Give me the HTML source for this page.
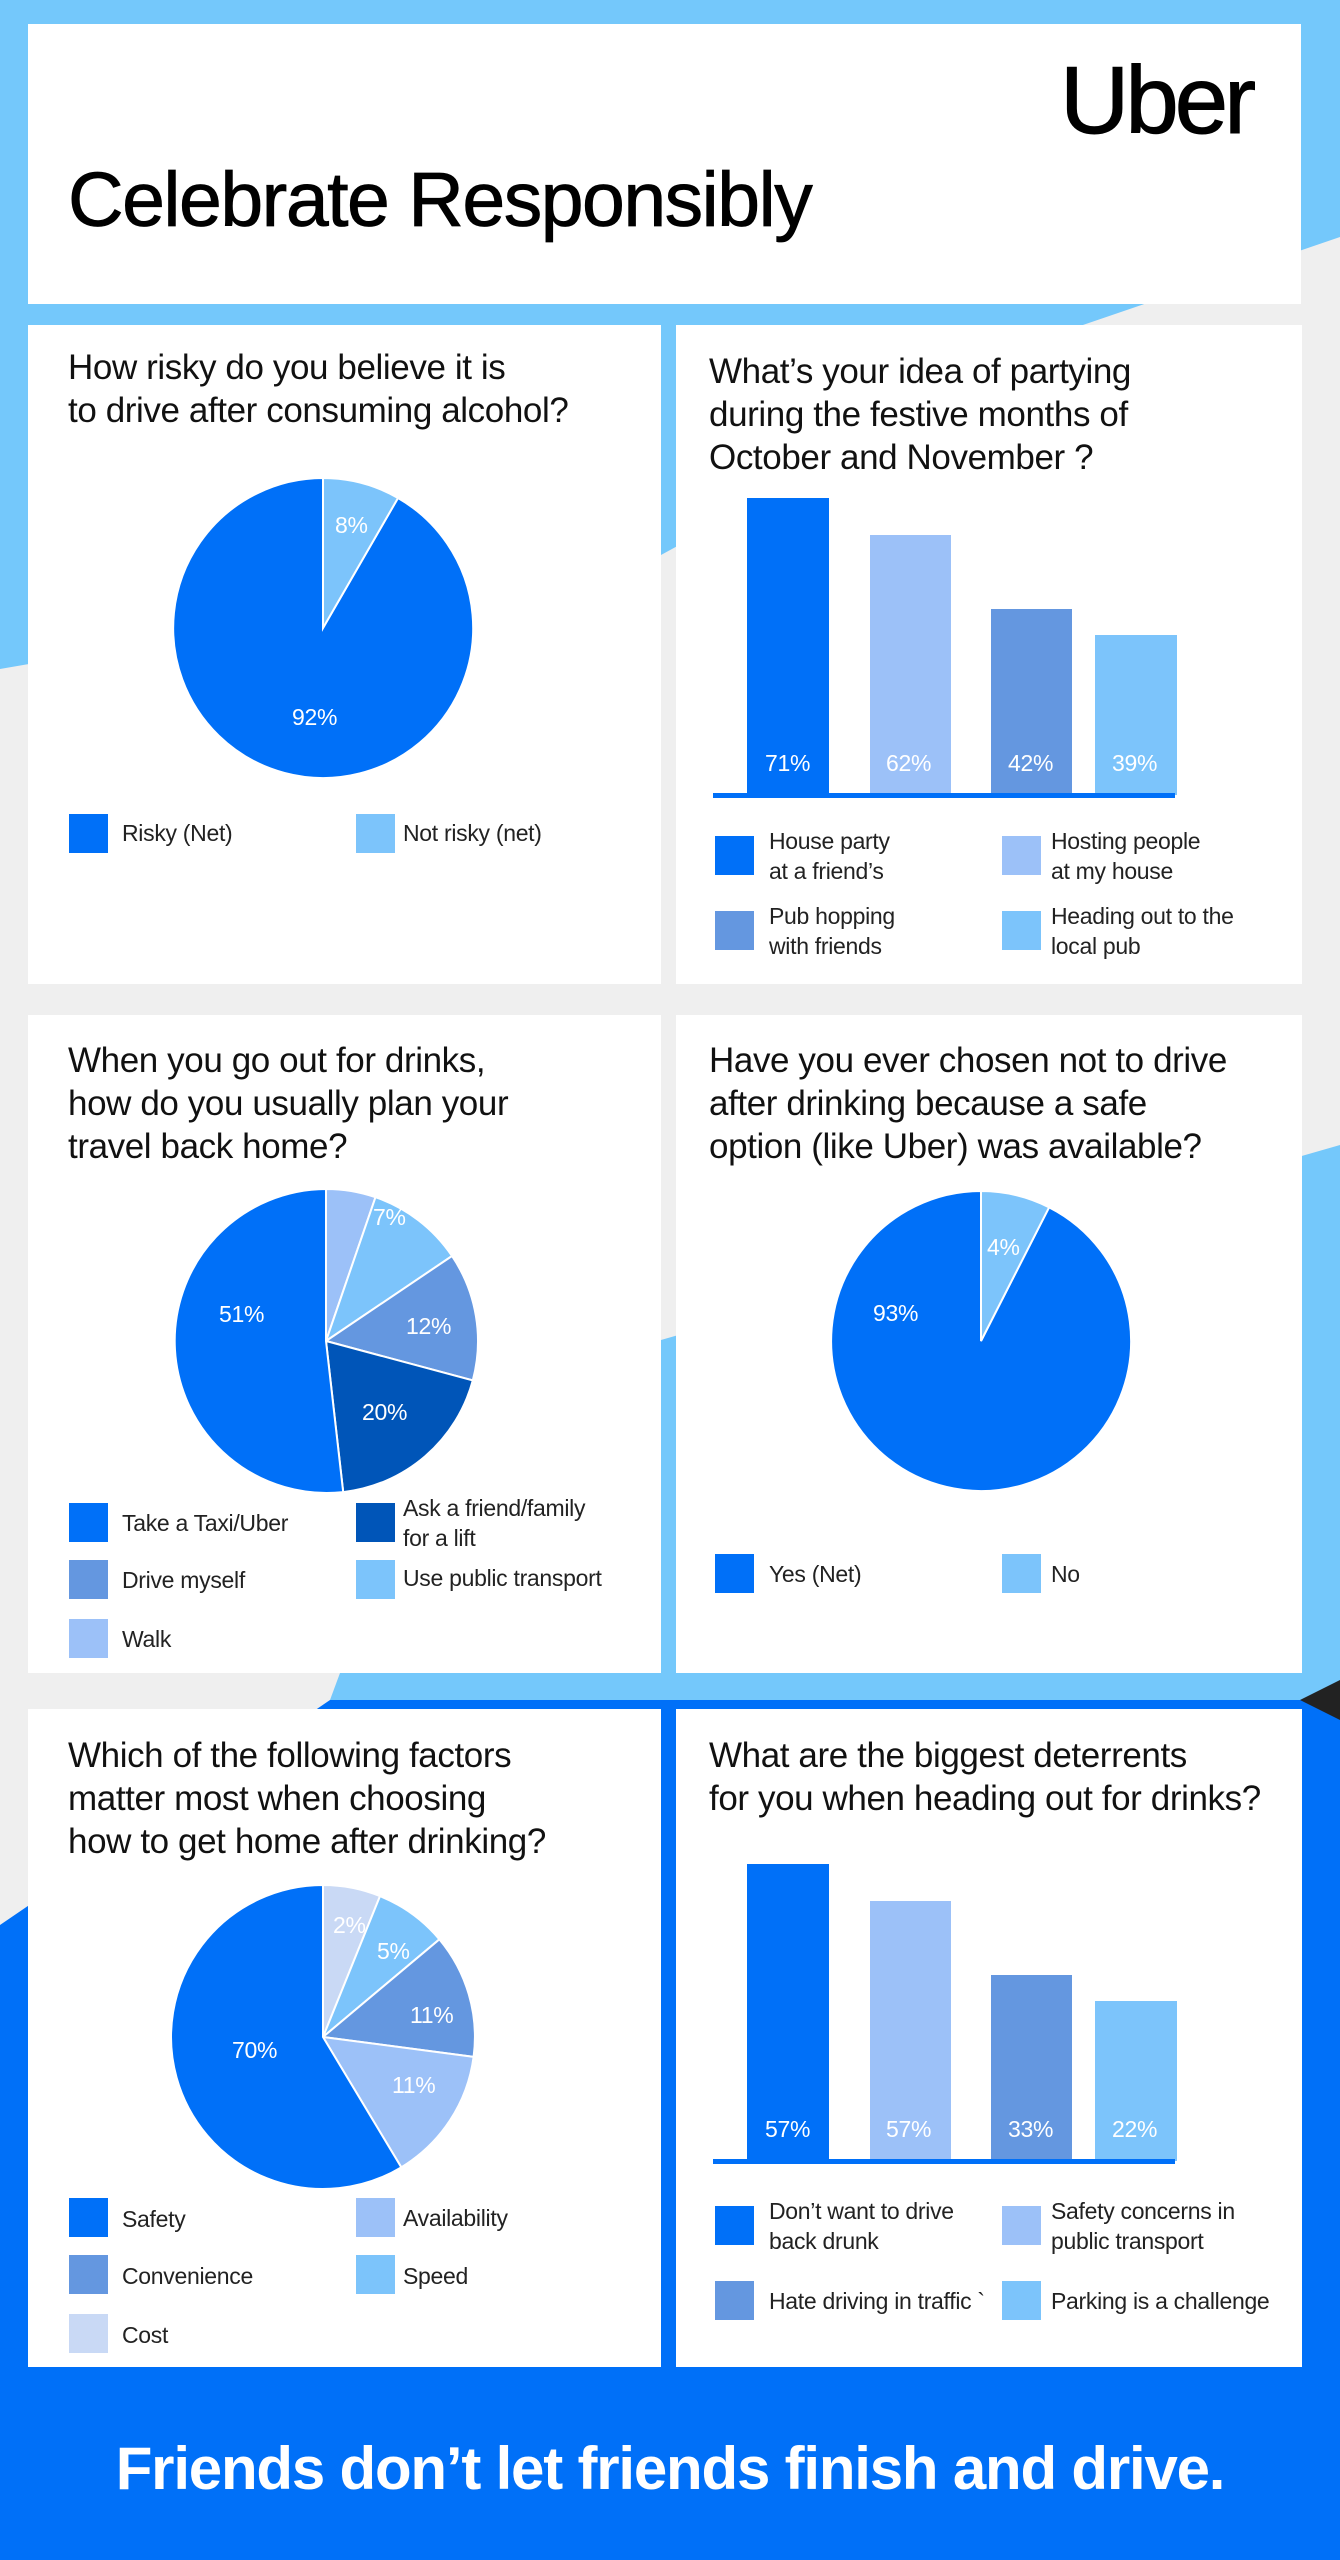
<!DOCTYPE html>
<html><head><meta charset="utf-8">
<style>
*{margin:0;padding:0;box-sizing:border-box}
body{width:1340px;height:2560px;position:relative;overflow:hidden;background:#efefef;font-family:"Liberation Sans",sans-serif;color:#111}
.abs{position:absolute}
.card{position:absolute;background:#fff}
.q{position:absolute;font-size:35px;line-height:43px;letter-spacing:-0.4px;color:#111;white-space:nowrap}
.sq{position:absolute;width:39px;height:39px}
.lt{position:absolute;font-size:23px;line-height:30px;color:#222;white-space:nowrap;letter-spacing:-0.3px}
.bl{position:absolute;font-size:23px;color:#fff;white-space:nowrap;letter-spacing:-0.3px}
</style></head><body>
<svg class="abs" style="left:0;top:0" width="1340" height="2560">
<polygon points="0,0 1340,0 1340,237 1080,326 661,555 0,669" fill="#74c8fb"/>
<polygon points="661,1340 1340,1145 1340,1700 330,1700 340,1673" fill="#74c8fb"/>
<polygon points="0,1925 330,1700 1340,1700 1340,2560 0,2560" fill="#0070f8"/>
<polygon points="1300,1700 1340,1680 1340,1720" fill="#222"/>
</svg>
<div class="card" style="left:28px;top:24px;width:1273px;height:280px"></div>
<div class="abs" style="left:1060px;top:46px;font-size:96px;letter-spacing:-4px;-webkit-text-stroke:1px #000;color:#000">Uber</div>
<div class="abs" style="left:68px;top:156px;font-size:77px;letter-spacing:-1.5px;-webkit-text-stroke:0.8px #000;color:#000">Celebrate Responsibly</div>

<div class="card" style="left:28px;top:325px;width:633px;height:659px"></div>
<div class="card" style="left:676px;top:325px;width:626px;height:659px"></div>
<div class="card" style="left:28px;top:1015px;width:633px;height:658px"></div>
<div class="card" style="left:676px;top:1015px;width:626px;height:658px"></div>
<div class="card" style="left:28px;top:1709px;width:633px;height:658px"></div>
<div class="card" style="left:676px;top:1709px;width:626px;height:658px"></div>

<div class="q" style="left:68px;top:346px">How risky do you believe it is<br>to drive after consuming alcohol?</div>
<div class="q" style="left:709px;top:350px">What’s your idea of partying<br>during the festive months of<br>October and November ?</div>
<div class="q" style="left:68px;top:1039px">When you go out for drinks,<br>how do you usually plan your<br>travel back home?</div>
<div class="q" style="left:709px;top:1039px">Have you ever chosen not to drive<br>after drinking because a safe<br>option (like Uber) was available?</div>
<div class="q" style="left:68px;top:1734px">Which of the following factors<br>matter most when choosing<br>how to get home after drinking?</div>
<div class="q" style="left:709px;top:1734px">What are the biggest deterrents<br>for you when heading out for drinks?</div>

<svg class="abs" style="left:0;top:0" width="1340" height="2560">
<g stroke="#fff" stroke-width="2">
<path d="M323,628 L398,498 A150,150 0 1 1 323,478 Z" fill="#0070f8"/>
<path d="M323,628 L323,478 A150,150 0 0 1 398,498 Z" fill="#7cc4fb"/>

<path d="M326,1341 L326,1189 A152,152 0 0 1 375.5,1197.2 Z" fill="#9cc1f8"/>
<path d="M326,1341 L375.5,1197.2 A152,152 0 0 1 452,1256 Z" fill="#7cc4fb"/>
<path d="M326,1341 L452,1256 A152,152 0 0 1 472.8,1380.4 Z" fill="#6497e0"/>
<path d="M326,1341 L472.8,1380.4 A152,152 0 0 1 343.2,1492.1 Z" fill="#0055b8"/>
<path d="M326,1341 L343.2,1492.1 A152,152 0 1 1 326,1189 Z" fill="#0070f8"/>

<path d="M981,1341 L1049.1,1207.3 A150,150 0 1 1 981,1191 Z" fill="#0070f8"/>
<path d="M981,1341 L981,1191 A150,150 0 0 1 1049.1,1207.3 Z" fill="#7cc4fb"/>

<path d="M323,2037 L323,1885 A152,152 0 0 1 380,1896.1 Z" fill="#c9d9f5"/>
<path d="M323,2037 L380,1896.1 A152,152 0 0 1 439.4,1939.3 Z" fill="#7cc4fb"/>
<path d="M323,2037 L439.4,1939.3 A152,152 0 0 1 473.6,2056.9 Z" fill="#6497e0"/>
<path d="M323,2037 L473.6,2056.9 A152,152 0 0 1 401.3,2167.3 Z" fill="#9cc1f8"/>
<path d="M323,2037 L401.3,2167.3 A152,152 0 1 1 323,1885 Z" fill="#0070f8"/>
</g>
<rect x="747" y="498" width="82" height="297" fill="#0070f8"/>
<rect x="870" y="535" width="81" height="260" fill="#9cc1f8"/>
<rect x="991" y="609" width="81" height="186" fill="#6497e0"/>
<rect x="1095" y="635" width="82" height="160" fill="#7cc4fb"/>
<rect x="713" y="793" width="462" height="5" fill="#0070f8"/>

<rect x="747" y="1864" width="82" height="297" fill="#0070f8"/>
<rect x="870" y="1901" width="81" height="260" fill="#9cc1f8"/>
<rect x="991" y="1975" width="81" height="186" fill="#6497e0"/>
<rect x="1095" y="2001" width="82" height="160" fill="#7cc4fb"/>
<rect x="713" y="2159" width="462" height="5" fill="#0070f8"/>
</svg>

<div class="bl" style="left:335px;top:512px">8%</div>
<div class="bl" style="left:292px;top:704px">92%</div>
<div class="bl" style="left:765px;top:750px">71%</div>
<div class="bl" style="left:886px;top:750px">62%</div>
<div class="bl" style="left:1008px;top:750px">42%</div>
<div class="bl" style="left:1112px;top:750px">39%</div>
<div class="bl" style="left:323px;top:1163px">3%</div>
<div class="bl" style="left:373px;top:1204px">7%</div>
<div class="bl" style="left:406px;top:1313px">12%</div>
<div class="bl" style="left:362px;top:1399px">20%</div>
<div class="bl" style="left:219px;top:1301px">51%</div>
<div class="bl" style="left:987px;top:1234px">4%</div>
<div class="bl" style="left:873px;top:1300px">93%</div>
<div class="bl" style="left:333px;top:1912px">2%</div>
<div class="bl" style="left:377px;top:1938px">5%</div>
<div class="bl" style="left:410px;top:2002px">11%</div>
<div class="bl" style="left:392px;top:2072px">11%</div>
<div class="bl" style="left:232px;top:2037px">70%</div>
<div class="bl" style="left:765px;top:2116px">57%</div>
<div class="bl" style="left:886px;top:2116px">57%</div>
<div class="bl" style="left:1008px;top:2116px">33%</div>
<div class="bl" style="left:1112px;top:2116px">22%</div>

<div class="sq" style="left:69px;top:814px;background:#0070f8"></div><div class="lt" style="left:122px;top:818px">Risky (Net)</div>
<div class="sq" style="left:356px;top:814px;background:#7cc4fb"></div><div class="lt" style="left:403px;top:818px">Not risky (net)</div>

<div class="sq" style="left:715px;top:836px;background:#0070f8"></div><div class="lt" style="left:769px;top:826px">House party<br>at a friend’s</div>
<div class="sq" style="left:1002px;top:836px;background:#9cc1f8"></div><div class="lt" style="left:1051px;top:826px">Hosting people<br>at my house</div>
<div class="sq" style="left:715px;top:911px;background:#6497e0"></div><div class="lt" style="left:769px;top:901px">Pub hopping<br>with friends</div>
<div class="sq" style="left:1002px;top:911px;background:#7cc4fb"></div><div class="lt" style="left:1051px;top:901px">Heading out to the<br>local pub</div>

<div class="sq" style="left:69px;top:1503px;background:#0070f8"></div><div class="lt" style="left:122px;top:1508px">Take a Taxi/Uber</div>
<div class="sq" style="left:356px;top:1503px;background:#0055b8"></div><div class="lt" style="left:403px;top:1493px">Ask a friend/family<br>for a lift</div>
<div class="sq" style="left:69px;top:1560px;background:#6497e0"></div><div class="lt" style="left:122px;top:1565px">Drive myself</div>
<div class="sq" style="left:356px;top:1560px;background:#7cc4fb"></div><div class="lt" style="left:403px;top:1563px">Use public transport</div>
<div class="sq" style="left:69px;top:1619px;background:#9cc1f8"></div><div class="lt" style="left:122px;top:1624px">Walk</div>

<div class="sq" style="left:715px;top:1554px;background:#0070f8"></div><div class="lt" style="left:769px;top:1559px">Yes (Net)</div>
<div class="sq" style="left:1002px;top:1554px;background:#7cc4fb"></div><div class="lt" style="left:1051px;top:1559px">No</div>

<div class="sq" style="left:69px;top:2198px;background:#0070f8"></div><div class="lt" style="left:122px;top:2204px">Safety</div>
<div class="sq" style="left:356px;top:2198px;background:#9cc1f8"></div><div class="lt" style="left:403px;top:2203px">Availability</div>
<div class="sq" style="left:69px;top:2255px;background:#6497e0"></div><div class="lt" style="left:122px;top:2261px">Convenience</div>
<div class="sq" style="left:356px;top:2255px;background:#7cc4fb"></div><div class="lt" style="left:403px;top:2261px">Speed</div>
<div class="sq" style="left:69px;top:2314px;background:#c9d9f5"></div><div class="lt" style="left:122px;top:2320px">Cost</div>

<div class="sq" style="left:715px;top:2206px;background:#0070f8"></div><div class="lt" style="left:769px;top:2196px">Don’t want to drive<br>back drunk</div>
<div class="sq" style="left:1002px;top:2206px;background:#9cc1f8"></div><div class="lt" style="left:1051px;top:2196px">Safety concerns in<br>public transport</div>
<div class="sq" style="left:715px;top:2281px;background:#6497e0"></div><div class="lt" style="left:769px;top:2286px">Hate driving in traffic `</div>
<div class="sq" style="left:1002px;top:2281px;background:#7cc4fb"></div><div class="lt" style="left:1051px;top:2286px">Parking is a challenge</div>

<div class="abs" style="left:0;top:2434px;width:1340px;text-align:center;font-size:60px;font-weight:bold;color:#fff;letter-spacing:-1.2px">Friends don’t let friends finish and drive.</div>
</body></html>
